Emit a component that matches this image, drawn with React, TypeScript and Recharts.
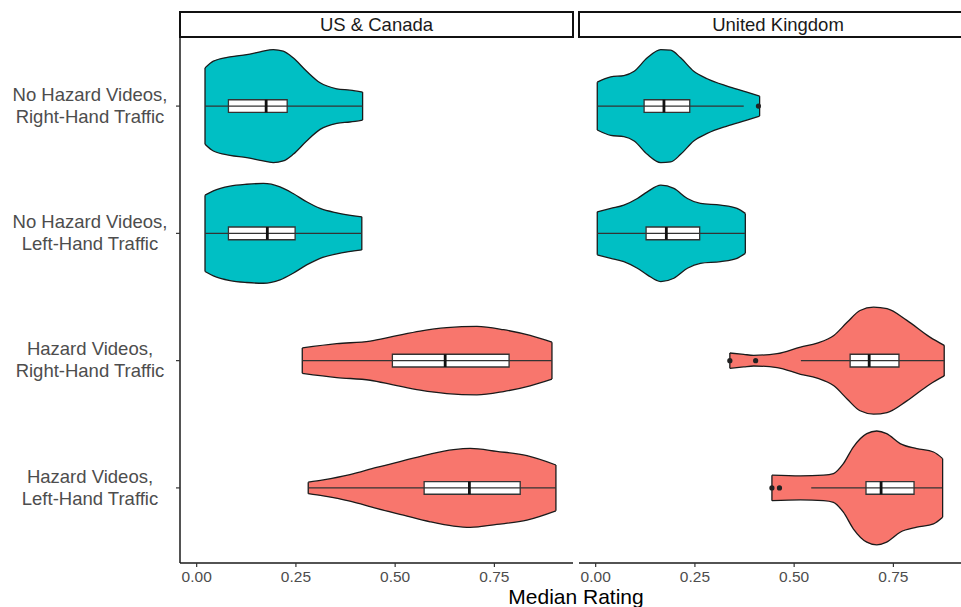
import React from "react";
import {
  Area,
  ComposedChart,
  ReferenceArea,
  ReferenceDot,
  ReferenceLine,
  XAxis,
  YAxis
} from "recharts";

const facets = ["US & Canada", "United Kingdom"];
const groups = [
  "No Hazard Videos,\nRight-Hand Traffic",
  "No Hazard Videos,\nLeft-Hand Traffic",
  "Hazard Videos,\nRight-Hand Traffic",
  "Hazard Videos,\nLeft-Hand Traffic"
];
const groupFill = ["#00BFC4", "#00BFC4", "#F8766D", "#F8766D"];
const xTicks = [0, 0.25, 0.5, 0.75];

// violin outlines: [median rating, half width in group units]
const usNoRight = [
  [0.021, 0.3], [0.042, 0.353], [0.084, 0.387], [0.126, 0.405], [0.16, 0.426],
  [0.193, 0.444], [0.218, 0.431], [0.243, 0.379], [0.277, 0.274], [0.311, 0.183],
  [0.353, 0.136], [0.386, 0.125], [0.418, 0.11]
];
const usNoLeft = [
  [0.021, 0.3], [0.042, 0.334], [0.084, 0.371], [0.126, 0.386], [0.168, 0.392],
  [0.21, 0.365], [0.243, 0.313], [0.277, 0.248], [0.311, 0.196], [0.353, 0.161],
  [0.416, 0.13]
];
const usHazRight = [
  [0.266, 0.1], [0.353, 0.133], [0.437, 0.154], [0.495, 0.19], [0.563, 0.232],
  [0.63, 0.259], [0.706, 0.269], [0.773, 0.243], [0.84, 0.198], [0.895, 0.145]
];
const usHazLeft = [
  [0.281, 0.045], [0.319, 0.063], [0.386, 0.104], [0.453, 0.161], [0.521, 0.214],
  [0.588, 0.266], [0.647, 0.3], [0.689, 0.31], [0.756, 0.287], [0.832, 0.253],
  [0.905, 0.18]
];
const ukNoRight = [
  [0.004, 0.188], [0.038, 0.23], [0.071, 0.24], [0.097, 0.274], [0.13, 0.379],
  [0.164, 0.444], [0.189, 0.439], [0.214, 0.379], [0.247, 0.274], [0.281, 0.215],
  [0.331, 0.157], [0.381, 0.11], [0.413, 0.078]
];
const ukNoLeft = [
  [0.004, 0.169], [0.038, 0.196], [0.071, 0.222], [0.105, 0.274], [0.13, 0.326],
  [0.164, 0.379], [0.197, 0.353], [0.231, 0.274], [0.264, 0.235], [0.315, 0.222],
  [0.356, 0.196], [0.377, 0.157]
];
const ukHazRight = [
  [0.338, 0.06], [0.373, 0.049], [0.398, 0.042], [0.457, 0.055], [0.516, 0.107],
  [0.558, 0.138], [0.6, 0.198], [0.634, 0.303], [0.666, 0.394], [0.7, 0.42],
  [0.734, 0.408], [0.784, 0.316], [0.842, 0.185], [0.878, 0.12]
];
const ukHazLeft = [
  [0.444, 0.1], [0.516, 0.094], [0.574, 0.1], [0.599, 0.113], [0.624, 0.191],
  [0.649, 0.321], [0.683, 0.426], [0.708, 0.447], [0.733, 0.426], [0.767, 0.348],
  [0.809, 0.309], [0.851, 0.282], [0.874, 0.23]
];

// boxplots: [whisker low, q1, median, q3, whisker high]
const usBoxes = [
  [0.021, 0.08, 0.175, 0.228, 0.418],
  [0.021, 0.08, 0.178, 0.248, 0.416],
  [0.266, 0.493, 0.626, 0.787, 0.895],
  [0.281, 0.573, 0.687, 0.815, 0.905]
];
const ukBoxes = [
  [0.004, 0.122, 0.172, 0.237, 0.373],
  [0.004, 0.127, 0.178, 0.262, 0.377],
  [0.517, 0.641, 0.689, 0.764, 0.878],
  [0.543, 0.681, 0.719, 0.802, 0.873]
];

// outliers: [group, rating]
const usOutliers: number[][] = [];
const ukOutliers = [[1, 0.41], [3, 0.338], [3, 0.403], [4, 0.444], [4, 0.463]];

const xDomain = [-0.042, 0.948];
const yDomain = [0.465, 4.59];
const boxHalf = 0.05;
const ink = "#1a1a1a";
const font = "'Liberation Sans', Arial, sans-serif";

function GroupTick(props: any) {
  const { y, payload } = props;
  const lines = groups[payload.value - 1].split("\n");
  return (
    <text x={90} y={y} textAnchor="middle" fill="#4d4d4d" fontSize={18.5}>
      {lines.map((l, i) => (
        <tspan key={i} x={90} dy={i === 0 ? -5.3 : 22}>
          {l}
        </tspan>
      ))}
    </text>
  );
}

function RatingTick(props: any) {
  const { x, payload } = props;
  return (
    <text x={x} y={581.7} textAnchor="middle" fill="#4d4d4d" fontSize={15.5}>
      {payload.value.toFixed(2)}
    </text>
  );
}

function Panel({ left, violins, boxes, outliers, showY }: any) {
  const width = showY ? 573 : 393;
  const data: any[] = [];
  violins.forEach((v: number[][], i: number) =>
    v.forEach(([x, w]) => data.push({ x, ["v" + i]: [i + 1 - w, i + 1 + w] }))
  );

  return (
    <div style={{ position: "absolute", left, top: 0 }}>
      <ComposedChart
        width={width}
        height={607}
        data={data}
        margin={{ top: 38, right: 0, bottom: 0, left: 0 }}
      >
        <XAxis
          type="number"
          dataKey="x"
          domain={xDomain}
          ticks={xTicks}
          allowDataOverflow
          height={44}
          tickSize={4}
          tick={RatingTick}
          axisLine={{ stroke: ink, strokeWidth: 1.5 }}
          tickLine={{ stroke: "#333", strokeWidth: 1.2 }}
        />
        <YAxis
          type="number"
          domain={yDomain}
          reversed
          ticks={[1, 2, 3, 4]}
          allowDataOverflow
          hide={!showY}
          width={180}
          tickSize={4}
          tick={GroupTick}
          axisLine={{ stroke: ink, strokeWidth: 1.5 }}
          tickLine={{ stroke: "#333", strokeWidth: 1.2 }}
        />
        {violins.map((v: number[][], i: number) => (
          <Area
            key={"a" + i}
            dataKey={"v" + i}
            type="monotone"
            fill={groupFill[i]}
            fillOpacity={1}
            stroke={ink}
            strokeWidth={1.3}
            connectNulls
            dot={false}
            activeDot={false}
            isAnimationActive={false}
          />
        ))}
        {violins.map((v: number[][], i: number) =>
          [v[0], v[v.length - 1]].map(([x, w], j) => (
            <ReferenceLine
              key={"e" + i + j}
              segment={[
                { x, y: i + 1 - w },
                { x, y: i + 1 + w }
              ]}
              stroke={ink}
              strokeWidth={1.3}
            />
          ))
        )}
        {boxes.map((b: number[], i: number) => (
          <ReferenceLine
            key={"w" + i}
            segment={[
              { x: b[0], y: i + 1 },
              { x: b[4], y: i + 1 }
            ]}
            stroke="#333"
            strokeWidth={1.3}
          />
        ))}
        {boxes.map((b: number[], i: number) => (
          <ReferenceArea
            key={"b" + i}
            x1={b[1]}
            x2={b[3]}
            y1={i + 1 - boxHalf}
            y2={i + 1 + boxHalf}
            fill="#fff"
            fillOpacity={1}
            stroke="#333"
            strokeWidth={1.3}
          />
        ))}
        {boxes.map((b: number[], i: number) => (
          <ReferenceLine
            key={"m" + i}
            segment={[
              { x: b[2], y: i + 1 - boxHalf },
              { x: b[2], y: i + 1 + boxHalf }
            ]}
            stroke="#111"
            strokeWidth={2.8}
          />
        ))}
        {outliers.map(([g, x]: number[], i: number) => (
          <ReferenceDot key={"o" + i} x={x} y={g} r={2.6} fill="#222" stroke="none" />
        ))}
      </ComposedChart>
    </div>
  );
}

const stripStyle: React.CSSProperties = {
  position: "absolute",
  top: 11,
  height: 27,
  boxSizing: "border-box",
  border: "2px solid #111",
  background: "#fff",
  fontSize: 18.5,
  color: "#1a1a1a",
  display: "flex",
  alignItems: "center",
  justifyContent: "center"
};

export default function App() {
  return (
    <div
      style={{
        position: "absolute",
        left: 0,
        top: 0,
        width: 961,
        height: 607,
        overflow: "hidden",
        background: "#fff",
        fontFamily: font
      }}
    >
      <Panel
        left={0}
        violins={[usNoRight, usNoLeft, usHazRight, usHazLeft]}
        boxes={usBoxes}
        outliers={usOutliers}
        showY
      />
      <Panel
        left={579}
        violins={[ukNoRight, ukNoLeft, ukHazRight, ukHazLeft]}
        boxes={ukBoxes}
        outliers={ukOutliers}
        showY={false}
      />
      <div style={{ ...stripStyle, left: 179, width: 395 }}>{facets[0]}</div>
      <div style={{ ...stripStyle, left: 578, width: 400 }}>{facets[1]}</div>
      <svg
        width={961}
        height={607}
        style={{ position: "absolute", left: 0, top: 0, pointerEvents: "none" }}
      >
        <text x={576} y={604} textAnchor="middle" fontSize={21} fill="#000">
          Median Rating
        </text>
      </svg>
    </div>
  );
}
